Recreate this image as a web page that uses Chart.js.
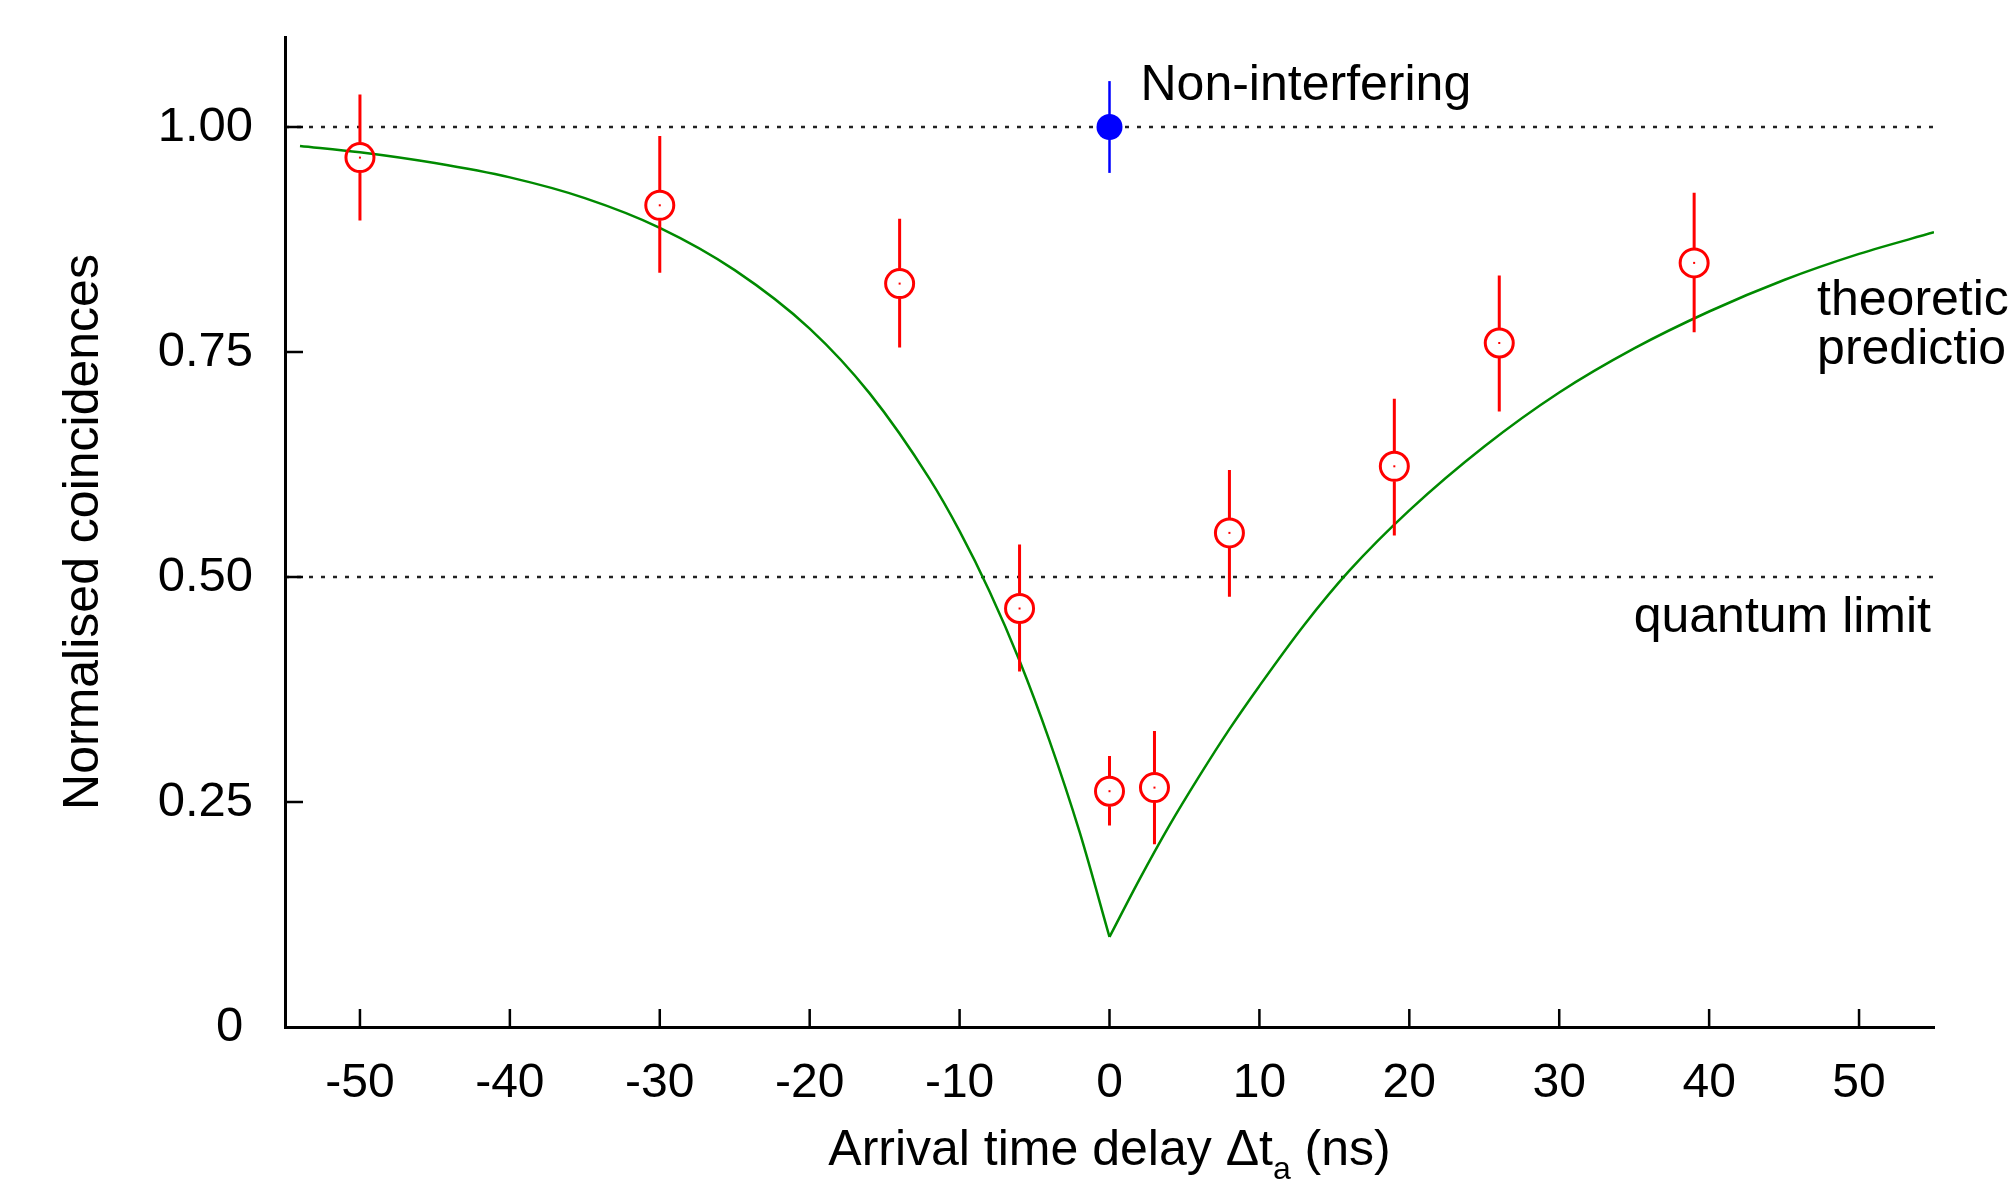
<!DOCTYPE html>
<html>
<head>
<meta charset="utf-8">
<script src="https://cdn.jsdelivr.net/npm/chart.js@4.4.0/dist/chart.umd.min.js"></script>
<style>
  body { margin: 0; background: #fff; }
  #wrap { width: 2008px; height: 1179px; }
</style>
</head>
<body>
<div id="wrap"><canvas id="Graph"></canvas></div>
<script>
const delays = [-50, -30, -14, -6, 0, 3, 8, 19, 26, 39];
const coincidences = [0.966, 0.913, 0.826, 0.465, 0.262, 0.266, 0.549, 0.623, 0.760, 0.849];
const errLow = [0.896, 0.838, 0.755, 0.395, 0.224, 0.203, 0.478, 0.546, 0.684, 0.772];
const errHigh = [1.036, 0.990, 0.898, 0.536, 0.301, 0.329, 0.619, 0.698, 0.835, 0.927];

// non-interfering reference point (blue)
const refDelay = [0];
const refValue = [1.0];
const refLow = [0.949];
const refHigh = [1.051];

// theoretical prediction (green), two branches meeting at the dip
const curveLeftX = [-54, -50, -45, -40, -35, -30, -25, -20, -16, -12, -10, -8, -6, -4, -2, 0];
const curveLeftY = [0.979, 0.972, 0.960, 0.944, 0.921, 0.888, 0.841, 0.776, 0.704, 0.609, 0.551, 0.484, 0.407, 0.318, 0.217, 0.100];
const curveRightX = [0, 2, 4, 6, 8, 10, 13, 16, 20, 25, 30, 35, 40, 45, 50, 55];
const curveRightY = [0.100, 0.164, 0.224, 0.279, 0.331, 0.379, 0.447, 0.507, 0.574, 0.645, 0.705, 0.754, 0.795, 0.830, 0.859, 0.883];

// dotted guide levels
const guideLevels = [1.0, 0.5];

// axes
const xTicks = [-50, -40, -30, -20, -10, 0, 10, 20, 30, 40, 50];
const yTicks = [0, 0.25, 0.5, 0.75, 1.0];
const yTickLabels = ['0\u2009', '0.25', '0.50', '0.75', '1.00'];

const FONT = '"Liberation Sans", Arial, Helvetica, sans-serif';
const ctx = document.getElementById('Graph').getContext('2d');

const toPoints = (xs, ys) => xs.map((x, i) => ({ x: x, y: ys[i] }));

// error bars, inward ticks and the text labels
const extras = {
  id: 'extras',
  afterDatasetsDraw(chart) {
    const c = chart.ctx;
    const xs = chart.scales.x, ys = chart.scales.y;
    const r = 14;
    c.save();
    c.lineWidth = 3;
    c.lineCap = 'butt';
    c.strokeStyle = '#ff0000';
    delays.forEach((d, i) => {
      const px = xs.getPixelForValue(d);
      const py = ys.getPixelForValue(coincidences[i]);
      c.beginPath();
      c.moveTo(px, ys.getPixelForValue(errHigh[i]));
      c.lineTo(px, py - r - 1);
      c.moveTo(px, py + r + 1);
      c.lineTo(px, ys.getPixelForValue(errLow[i]));
      c.stroke();
      c.fillStyle = '#ff0000';
      c.fillRect(px - 1, py - 1, 2, 2);
    });
    c.strokeStyle = '#0000ff';
    c.lineWidth = 2.5;
    refDelay.forEach((d, i) => {
      const px = xs.getPixelForValue(d);
      c.beginPath();
      c.moveTo(px, ys.getPixelForValue(refHigh[i]));
      c.lineTo(px, ys.getPixelForValue(refLow[i]));
      c.stroke();
    });
    c.restore();
  },
  afterDraw(chart) {
    const c = chart.ctx;
    const xs = chart.scales.x, ys = chart.scales.y;
    const area = chart.chartArea;
    c.save();
    // inward ticks
    c.strokeStyle = '#000';
    c.lineWidth = 2.5;
    c.beginPath();
    xTicks.forEach(v => {
      const px = xs.getPixelForValue(v);
      c.moveTo(px, area.bottom);
      c.lineTo(px, area.bottom - 18);
    });
    yTicks.filter(v => v > 0).forEach(v => {
      const py = ys.getPixelForValue(v);
      c.moveTo(area.left, py);
      c.lineTo(area.left + 18, py);
    });
    c.stroke();

    // text labels
    c.fillStyle = '#000';
    c.font = '50px ' + FONT;
    c.textBaseline = 'alphabetic';
    c.textAlign = 'left';
    c.fillText('Non-interfering', xs.getPixelForValue(0) + 31, ys.getPixelForValue(1.0) - 27);
    c.fillText('theoretical', xs.getPixelForValue(47) + 3, 315);
    c.fillText('prediction', xs.getPixelForValue(47) + 3, 364);
    c.textAlign = 'right';
    c.fillText('quantum limit', area.right - 3, ys.getPixelForValue(0.5) + 55);

    // y axis title
    c.save();
    c.translate(98, (area.top + area.bottom) / 2);
    c.rotate(-Math.PI / 2);
    c.textAlign = 'center';
    c.fillText('Normalised coincidences', 0, 0);
    c.restore();

    // x axis title with subscript
    const partA = 'Arrival time delay \u0394t';
    const sub = 'a';
    const partB = ' (ns)';
    c.textAlign = 'left';
    c.font = '50px ' + FONT;
    const wA = c.measureText(partA).width;
    const wB = c.measureText(partB).width;
    c.font = '32px ' + FONT;
    const wS = c.measureText(sub).width;
    const total = wA + wS + wB;
    let x0 = (area.left + area.right) / 2 - total / 2;
    const base = area.bottom + 138;
    c.font = '50px ' + FONT;
    c.fillText(partA, x0, base);
    c.font = '32px ' + FONT;
    c.fillText(sub, x0 + wA, base + 14);
    c.font = '50px ' + FONT;
    c.fillText(partB, x0 + wA + wS, base);
    c.restore();
  }
};

const guideSets = guideLevels.map(level => ({
  data: [{ x: -55, y: level }, { x: 55, y: level }],
  borderColor: '#222222',
  borderWidth: 2.5,
  borderDash: [4, 8],
  pointRadius: 0,
  showLine: true,
  order: 4
}));

new Chart(ctx, {
  type: 'line',
  data: {
    datasets: [
      {
        data: toPoints(delays, coincidences),
        showLine: false,
        pointStyle: 'circle',
        pointRadius: 14,
        pointBorderWidth: 3,
        pointBorderColor: '#ff0000',
        pointBackgroundColor: 'rgba(0,0,0,0)',
        order: 0
      },
      {
        data: toPoints(refDelay, refValue),
        showLine: false,
        pointRadius: 13,
        pointBorderWidth: 0,
        pointBackgroundColor: '#0000ff',
        pointBorderColor: '#0000ff',
        order: 0
      },
      {
        data: toPoints(curveLeftX, curveLeftY),
        borderColor: '#008a00',
        borderWidth: 2.5,
        pointRadius: 0,
        cubicInterpolationMode: 'monotone',
        order: 2
      },
      {
        data: toPoints(curveRightX, curveRightY),
        borderColor: '#008a00',
        borderWidth: 2.5,
        pointRadius: 0,
        cubicInterpolationMode: 'monotone',
        order: 2
      },
      ...guideSets
    ]
  },
  options: {
    responsive: true,
    maintainAspectRatio: false,
    animation: false,
    layout: { padding: { top: 37, right: 74, bottom: 0, left: 0 } },
    plugins: { legend: { display: false }, tooltip: { enabled: false } },
    scales: {
      x: {
        type: 'linear',
        min: -55,
        max: 55,
        afterBuildTicks: s => { s.ticks = xTicks.map(v => ({ value: v })); },
        afterFit: s => { s.height = 152; s.paddingLeft = 0; s.paddingRight = 0; },
        grid: { display: false },
        border: { display: true, color: '#000', width: 3 },
        ticks: {
          color: '#000',
          font: { family: FONT, size: 48 },
          padding: 20,
          maxRotation: 0,
          autoSkip: false,
          callback: v => String(v)
        }
      },
      y: {
        type: 'linear',
        min: 0,
        max: 1.1,
        afterBuildTicks: s => { s.ticks = yTicks.map(v => ({ value: v })); },
        afterFit: s => { s.width = 285; s.paddingTop = 0; s.paddingBottom = 0; },
        grid: { display: false },
        border: { display: true, color: '#000', width: 3 },
        ticks: {
          color: '#000',
          font: { family: FONT, size: 49 },
          padding: 24,
          autoSkip: false,
          callback: (v, i) => yTickLabels[i]
        }
      }
    }
  },
  plugins: [extras]
});
</script>
</body>
</html>
